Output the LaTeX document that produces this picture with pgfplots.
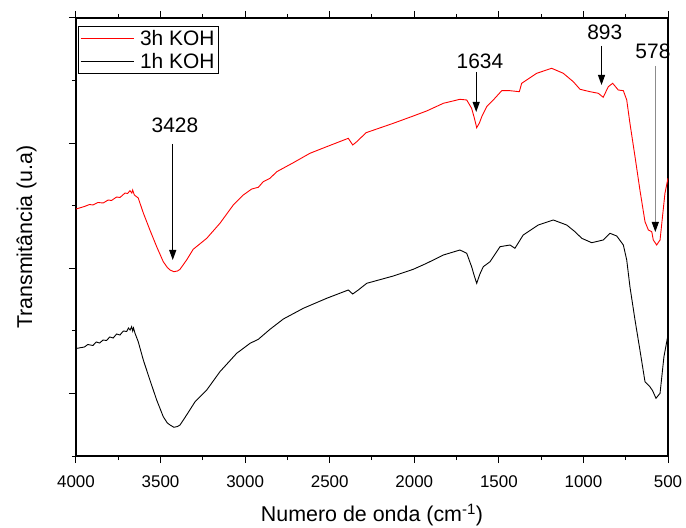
\documentclass[border=0pt]{standalone}
\usepackage{fontspec}
\setmainfont{Liberation Sans}
\usepackage{pgfplots}
\pgfplotsset{compat=1.18}
\usetikzlibrary{arrows.meta}

\begin{document}
\begin{tikzpicture}
\useasboundingbox (0,0) rectangle (686bp,528bp);
\begin{axis}[
  at={(76bp,72bp)}, anchor=south west,
  width=592bp, height=438bp, scale only axis,
  x dir=reverse, xmin=500, xmax=4000, ymin=0, ymax=438,
  xtick={500,1000,...,4000}, minor x tick num=1,
  ytick={62.6,187.7,312.9,438}, minor ytick={0,125.1,250.3,375.4},
  yticklabels={}, ytick pos=left,
  tick align=outside, major tick length=7bp, minor tick length=4bp,
  every tick/.style={black, line width=1bp},
  axis line style={line width=1.2bp},
  /pgf/number format/1000 sep={}, /pgf/number format/assume math mode=true,
  xticklabel style={font=\fontsize{17}{20}\selectfont, yshift=-9bp},
  xlabel={Numero de onda (cm\textsuperscript{-1})},
  xlabel style={font=\fontsize{21.5}{24}\selectfont, at={(axis description cs:0.5,-0.15)}, anchor=base},
  ylabel={Transmitância (u.a)},
  ylabel style={font=\fontsize{21.5}{24}\selectfont, at={(axis description cs:-0.074,0.5)}, anchor=base},
  legend style={at={(rel axis cs:0.003,0.982)}, anchor=north west, font=\fontsize{21}{24}\selectfont, draw=black, line width=0.8bp, row sep=2bp, inner xsep=2bp, inner ysep=2bp},
  legend cell align=left,
  legend image code/.code={\draw[#1, line width=1.2bp] (0bp,0bp) -- (47bp,0bp); \path (-1bp,0bp) -- (52bp,0bp);},
  clip mode=individual,
]
\addplot[red, line width=0.9bp] coordinates {
(4000,247) (3950,249.5) (3920,251.5) (3900,251) (3870,253.5) (3839,253) (3810,256) (3790,255.5)
(3760,259) (3740,258.5) (3710,263) (3695,262.5) (3681,265.3) (3670,263) (3665,266) (3655,261)
(3632,258) (3602,243) (3563,226) (3523,209.3) (3484,194.3) (3460,188.5) (3444,186) (3421,184.3) (3400,185) (3385,186.7)
(3346,196) (3307,206.7) (3227,217.7) (3149,232.7) (3070,251) (3011,261) (2961,267) (2922,268.7)
(2893,274.3) (2853,277.7) (2813,284.3) (2715,293.3) (2617,302.7) (2518,309.3) (2390,317.7)
(2364,311) (2340,314.3) (2285,323.3) (2124,332.7) (2006,340) (1927,345) (1828,352.7) (1730,356.7)
(1690,356) (1661,347.7) (1645,338) (1631,328.3) (1615,333) (1601,339.3) (1572,349.3) (1533,356) (1483,365.3) (1434,365.3)
(1379,364.3) (1365,372.7) (1276,382.7) (1188,387.7) (1119,382.7) (1060,374.3) (1020,366.7)
(961,364.3) (912,362.7) (883,358.7) (853,369.3) (827,372.7) (794,366) (764,365.3) (744,356)
(725,332.7) (695,299.3) (666,266) (636,234.3) (616,226) (596,224.3) (587,216) (567,211)
(547,216) (518,262.7) (500,277.7)
};
\addlegendentry{\rule[-6bp]{0pt}{21bp}\hspace{4bp}3h KOH}
\addplot[black, line width=0.9bp] coordinates {
(4000,107.5) (3950,109) (3930,111.5) (3900,110.5) (3880,114) (3860,113) (3840,116) (3820,115.5)
(3800,119) (3780,118) (3760,122) (3740,121) (3720,125) (3700,124.5) (3690,128) (3680,126)
(3671,129.3) (3665,125) (3660,128) (3651,122.7) (3632,114.3) (3602,96) (3563,76) (3523,56)
(3484,39.3) (3460,33) (3444,31) (3421,28.7) (3400,29.5) (3385,31) (3346,41) (3296,54.3) (3227,66) (3149,84.3)
(3050,102.7) (2971,112.7) (2922,116.7) (2853,126.7) (2774,137) (2656,147.7) (2518,157.7)
(2390,166) (2364,162) (2331,166) (2281,172.7) (2124,180) (2006,186.7) (1927,192.7) (1828,201)
(1730,206) (1690,202.7) (1661,189.3) (1645,180) (1631,172.7) (1612,182) (1592,189.3) (1552,194.3) (1493,209.3)
(1434,211) (1405,207.7) (1356,221) (1267,231) (1178,236) (1099,231) (1050,224.3) (1010,217.7)
(951,213.3) (883,216) (843,222.7) (803,220) (764,211) (744,196) (725,169.3) (695,136) (666,106)
(636,74.3) (607,69.3) (591,65.3) (571,57.7) (547,62.7) (524,99.3) (500,121)
};
\addlegendentry{\rule[-6bp]{0pt}{21bp}\hspace{4bp}1h KOH}
\draw[-{Triangle[length=10bp,width=7bp]}, line width=1bp] (axis cs:3428,312) -- (axis cs:3428,196);
\draw[-{Triangle[length=10bp,width=7bp]}, line width=1bp] (axis cs:1634,384) -- (axis cs:1634,344);
\draw[-{Triangle[length=10bp,width=7bp]}, line width=1bp] (axis cs:893,410) -- (axis cs:893,371);
\draw[black!45, -{Triangle[length=10bp,width=7bp,black]}, line width=1bp] (axis cs:575,390) -- (axis cs:575,224);
\node[anchor=base, font=\fontsize{21}{24}\selectfont] at (axis cs:3415,323) {3428};
\node[anchor=base, font=\fontsize{21}{24}\selectfont] at (axis cs:1612,387.7) {1634};
\node[anchor=base, font=\fontsize{21}{24}\selectfont] at (axis cs:874,416.7) {893};
\node[anchor=base, font=\fontsize{21}{24}\selectfont] at (axis cs:589,397.7) {578};
\end{axis}
\end{tikzpicture}
\end{document}
